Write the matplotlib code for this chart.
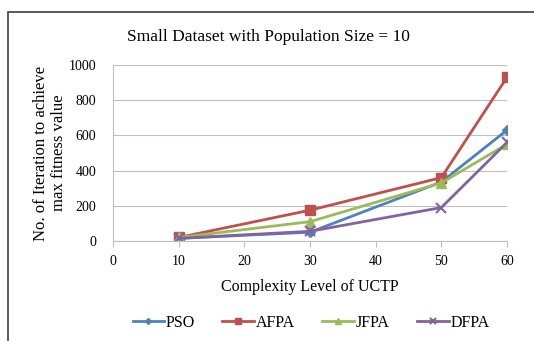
import matplotlib
matplotlib.use("Agg")
import matplotlib.pyplot as plt
from matplotlib.patches import Rectangle

plt.rcParams['font.family'] = ['Liberation Serif', 'DejaVu Serif']

x = [10, 30, 50, 60]
pso = [15, 50, 335, 630]
afpa = [20, 175, 360, 930]
jfpa = [20, 110, 330, 550]
dfpa = [15, 55, 190, 560]

W, H = 534, 341
fig = plt.figure(figsize=(W/100, H/100), dpi=100)
ax = fig.add_axes([113/W, 1-241/H, (507-113)/W, (241-65)/H])

series = [
    ("PSO", pso, "#4F81BD", "D", 5),
    ("AFPA", afpa, "#C0504D", "s", 7),
    ("JFPA", jfpa, "#9BBB59", "^", 7),
    ("DFPA", dfpa, "#8064A2", "x", 7),
]
for name, ys, c, m, ms in series:
    ax.plot(x, ys, color=c, marker=m, markersize=ms, linewidth=2, label=name,
            markeredgewidth=1.5 if m == "x" else 1)

ax.set_xlim(0, 60)
ax.set_ylim(0, 1000)
ax.set_xticks(range(0, 61, 10))
ax.set_yticks(range(0, 1001, 200))
ax.yaxis.grid(True, color="#BFBFBF", linewidth=0.8)
ax.set_axisbelow(True)
for s in ["top", "right"]:
    ax.spines[s].set_visible(False)
ax.spines["left"].set_color("#BFBFBF")
ax.spines["bottom"].set_color("#BFBFBF")
ax.tick_params(axis="y", length=0, labelsize=10, pad=12)
ax.tick_params(axis="x", length=4, color="#BFBFBF", direction="out", labelsize=10, pad=6)

ax.set_xlabel("Complexity Level of UCTP", fontsize=11.5, labelpad=8)
ax.set_ylabel("No. of Iteration to achieve\nmax fitness value", fontsize=12, va="center")
ax.yaxis.set_label_coords((50-113)/394, 0.5)
fig.text(268/W, 1-37/H, "Small Dataset with Population Size = 10", ha="center", va="center", fontsize=12.5)

fig.legend(loc="center", bbox_to_anchor=(311/W, 1-323/H), ncol=4, frameon=False,
           fontsize=11.5, handlelength=2.0, columnspacing=1.7, handletextpad=0.1,
           markerscale=0.6)

fig.patches.append(Rectangle((8/W, -0.02), 1.1, 1-12/H+0.02, transform=fig.transFigure,
                             fill=False, edgecolor="#404040", linewidth=1.2))

fig.savefig("out.png", dpi=100)
